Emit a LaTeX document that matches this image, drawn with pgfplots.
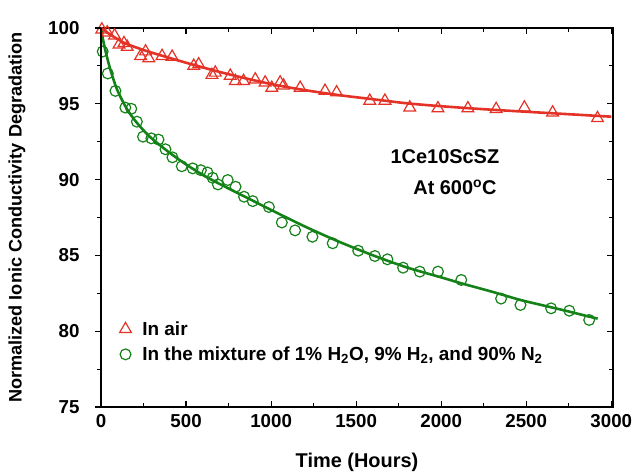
\documentclass[border=0pt]{standalone}
\usepackage{pgfplots}
\pgfplotsset{compat=1.18}
\usepackage{fontspec}
\setmainfont{Liberation Sans}
\definecolor{myred}{RGB}{228,50,38}
\definecolor{mygreen}{RGB}{20,130,24}
\begin{document}
\begin{tikzpicture}
\useasboundingbox (-101bp,-66bp) rectangle (531bp,407bp);
\begin{axis}[
  at={(0,0)}, anchor=south west, scale only axis,
  width=512bp, height=379bp,
  xmin=0, xmax=3010, ymin=75, ymax=100,
  xtick={0,500,...,3000}, minor xtick={250,750,...,2750},
  ytick={75,80,...,100}, minor ytick={77.5,82.5,...,97.5},
  ytick pos=right, yticklabel pos=left,
  tick align=inside, major tick length=6bp, minor tick length=4bp,
  axis line style={line width=1.3bp},
  every tick/.style={line width=1.1bp, black},
  ticklabel style={font=\bfseries\fontsize{18.8}{19}\selectfont},
  /pgf/number format/assume math mode=true,
  scaled ticks=false,
  xticklabel style={/pgf/number format/1000 sep=, yshift=-4bp},
  yticklabel style={xshift=-18bp},
  xlabel={Time (Hours)},
  ylabel={Normalized Ionic Conductivity Degradation},
  xlabel style={at={(axis description cs:0.5,-0.145)}, anchor=center,
    font=\bfseries\fontsize{20}{22}\selectfont},
  ylabel style={at={(axis description cs:-0.164,0.5)}, anchor=center,
    font=\bfseries\fontsize{18.2}{20}\selectfont},
  legend style={at={(axis description cs:0.036,0.113)}, anchor=south west,
    draw=none, fill=none, inner sep=0pt, row sep=6bp,
    font=\bfseries\fontsize{19}{21}\selectfont},
  legend cell align=left,
  legend style={/tikz/every odd column/.append style={column sep=9bp}},
]
% fit lines
\addplot[mygreen, line width=2.6bp, smooth, forget plot] coordinates {
(0,100) (10,99.35) (25,98.55) (50,97.45) (75,96.55) (100,95.8) (150,94.7)
(200,93.9) (250,93.25) (300,92.7) (400,91.8) (500,91.0) (600,90.3) (700,89.7)
(850,88.85) (1000,88.0) (1200,86.9) (1400,85.9) (1600,85.0) (1800,84.2)
(2000,83.55) (2118,83.16) (2300,82.6) (2466,82.06) (2600,81.7) (2750,81.3)
(2870,80.96) (2920,80.83)};
\addplot[myred, line width=2.6bp, smooth, forget plot] coordinates {
(0,100) (50,99.6) (100,99.25) (150,98.95) (250,98.55) (350,98.2) (550,97.55)
(750,96.95) (1000,96.3) (1200,95.9) (1400,95.57) (1600,95.3) (1800,95.03)
(2000,94.84) (2200,94.68) (2400,94.54) (2600,94.41) (2800,94.28) (3000,94.15)};
% data
\addplot[only marks, mark=triangle, mark size=6.8bp, myred,
  mark options={line width=1.2bp, fill=none}] coordinates {
(5,99.9) (37,99.7) (80,99.5) (106,98.9) (135,99.0) (154,98.75) (233,98.15)
(262,98.45) (281,98.0) (359,98.15) (418,98.1) (545,97.5) (574,97.6) (652,96.9)
(672,97.05) (760,96.85) (790,96.5) (838,96.5) (907,96.6) (965,96.4) (1004,96.05)
(1053,96.4) (1073,96.2) (1171,96.05) (1317,95.85) (1385,95.75) (1580,95.2)
(1669,95.2) (1815,94.75) (1981,94.7) (2157,94.7) (2323,94.65) (2489,94.75)
(2655,94.42) (2919,94.05)};
\addlegendentry{In air}
\addplot[only marks, mark=o, mark size=5.4bp, mygreen,
  mark options={line width=1.2bp}] coordinates {
(10,98.45) (40,97.0) (85,95.85) (143,94.75) (178,94.67) (211,93.82) (247,92.83)
(296,92.72) (338,92.64) (379,92.0) (420,91.47) (475,90.88) (539,90.74)
(587,90.62) (626,90.47) (656,90.12) (687,89.68) (745,89.97) (791,89.53)
(841,88.87) (892,88.58) (987,88.19) (1063,87.17) (1141,86.65) (1243,86.23)
(1362,85.80) (1512,85.31) (1610,84.96) (1684,84.74) (1776,84.19) (1874,83.93)
(1981,83.93) (2118,83.38) (2352,82.15) (2466,81.73) (2646,81.51) (2753,81.35)
(2870,80.74)};
\addlegendentry{In the mixture of 1\% H\textsubscript{2}O, 9\% H\textsubscript{2}, and 90\% N\textsubscript{2}}
\node[font=\bfseries\fontsize{20}{20}\selectfont] at (axis cs:2022,91.5) {1Ce10ScSZ};
\node[font=\bfseries\fontsize{20}{20}\selectfont] at (axis cs:2081,89.5) {At 600\textsuperscript{o}C};
\end{axis}
\begin{axis}[
  at={(0,0)}, anchor=south west, scale only axis,
  width=512bp, height=379bp,
  xmin=0, xmax=3010, ymin=75, ymax=100,
  axis x line=none, axis y line*=left,
  ytick={75,80,...,100}, minor ytick={77.5,82.5,...,97.5},
  yticklabels={}, tick align=outside,
  major tick length=6bp, minor tick length=4bp,
  axis line style={line width=1.3bp, -},
  every tick/.style={line width=1.1bp, black},
]
\end{axis}
\end{tikzpicture}
\end{document}
